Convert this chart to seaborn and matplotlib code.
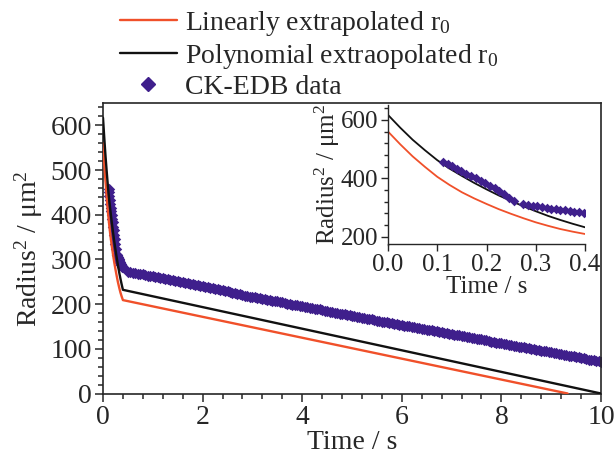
import numpy as np
import pandas as pd
import matplotlib
matplotlib.use("Agg")
import matplotlib.pyplot as plt
import seaborn as sns
from matplotlib.ticker import MultipleLocator
from matplotlib.lines import Line2D

# ---- model curves: squared radius vs time ----
t_linear = [0.0, 0.025, 0.05, 0.075, 0.1, 0.125, 0.15, 0.175, 0.2,
            0.225, 0.25, 0.275, 0.3, 0.325, 0.35, 0.375, 0.4, 9.33]
r2_linear = [560, 516, 475, 439, 405, 377, 352, 331, 312,
             294, 278, 263, 249, 237, 226, 217, 209, 0]

t_poly = [0.0, 0.025, 0.05, 0.075, 0.1, 0.125, 0.15, 0.175, 0.2,
          0.225, 0.25, 0.275, 0.3, 0.325, 0.35, 0.375, 0.4, 10.0]
r2_poly = [617, 573, 532, 496, 462, 433, 408, 384, 362,
           341, 322, 304, 287, 271, 257, 244, 232, 0]

# ---- CK-EDB measurements ----
t_early = [0.111, 0.121, 0.130, 0.140, 0.149, 0.159, 0.169, 0.178, 0.188, 0.197,
           0.207, 0.217, 0.226, 0.236, 0.245, 0.255,
           0.275, 0.284, 0.294, 0.303, 0.312, 0.322, 0.331, 0.341, 0.350, 0.359,
           0.369, 0.378, 0.388, 0.397]
r2_early = [457, 450, 443, 433, 425, 416, 408, 400, 391, 383,
            373, 365, 355, 346, 334, 323,
            311, 309, 306, 304, 301, 299, 296, 294, 292, 290,
            288, 286, 284, 282]

t_late = [round(0.5 + 0.05 * i, 2) for i in range(191)]
r2_late = [272, 271, 270, 269, 268, 268, 267, 265, 264, 263,
           262, 261, 260, 258, 258, 257, 256, 254, 253, 252,
           251, 250, 249, 248, 247, 246, 245, 243, 242, 241,
           240, 239, 238, 237, 236, 234, 233, 232, 231, 230,
           229, 227, 225, 224, 223, 222, 221, 219, 218, 217,
           216, 215, 214, 213, 212, 211, 210, 209, 208, 207,
           206, 205, 204, 202, 201, 200, 199, 198, 197, 196,
           195, 194, 193, 192, 191, 190, 189, 188, 187, 185,
           184, 183, 182, 181, 180, 179, 178, 177, 176, 175,
           174, 173, 172, 171, 170, 168, 167, 167, 166, 164,
           163, 162, 161, 160, 159, 158, 157, 156, 155, 154,
           153, 152, 151, 150, 149, 148, 147, 146, 145, 144,
           143, 142, 141, 140, 139, 138, 137, 136, 135, 134,
           133, 132, 131, 130, 129, 128, 127, 126, 125, 124,
           123, 122, 121, 120, 119, 117, 116, 115, 114, 113,
           112, 111, 110, 109, 108, 107, 106, 105, 104, 103,
           102, 101, 100, 99, 98, 97, 96, 95, 94, 93,
           92, 91, 90, 89, 88, 87, 86, 85, 84, 83,
           82, 81, 80, 79, 78, 76, 75, 74, 73, 72,
           71]

labels = ["Linearly extrapolated r$_0$",
          "Polynomial extraopolated r$_0$",
          "CK-EDB data"]

RED = "#f0502a"
BLACK = "#111111"
PURPLE = "#3f1f8c"

sns.set_style("ticks")
plt.rcParams["font.family"] = ["Liberation Serif", "DejaVu Serif"]
plt.rcParams["mathtext.fontset"] = "custom"
plt.rcParams["mathtext.rm"] = "Liberation Serif"
plt.rcParams["mathtext.it"] = "Liberation Serif:italic"
plt.rcParams["axes.linewidth"] = 1.2

lin = pd.DataFrame({"t": t_linear, "r2": r2_linear})
poly = pd.DataFrame({"t": t_poly, "r2": r2_poly})
meas = pd.DataFrame({"t": t_early + t_late, "r2": r2_early + r2_late})
meas_in = pd.DataFrame({"t": t_early, "r2": r2_early})

fig = plt.figure(figsize=(6.16, 4.61), dpi=100)
ax = fig.add_axes([103 / 616, 1 - 393.5 / 461, 498 / 616, 290.5 / 461])
ins = fig.add_axes([388 / 616, 1 - 244.5 / 461, 197 / 616, 139.5 / 461])

# ---- main panel ----
sns.scatterplot(data=meas, x="t", y="r2", ax=ax, marker="D", s=34,
                color=PURPLE, linewidth=0, zorder=2, legend=False)
sns.lineplot(data=lin, x="t", y="r2", ax=ax, color=RED, lw=1.7,
             estimator=None, sort=False, zorder=3, legend=False)
sns.lineplot(data=poly, x="t", y="r2", ax=ax, color=BLACK, lw=1.7,
             estimator=None, sort=False, zorder=3, legend=False)

ax.set_xlim(0, 10)
ax.set_ylim(0, 650)
ax.xaxis.set_major_locator(MultipleLocator(2))
ax.xaxis.set_minor_locator(MultipleLocator(0.4))
ax.yaxis.set_major_locator(MultipleLocator(100))
ax.yaxis.set_minor_locator(MultipleLocator(20))
ax.tick_params(which="both", direction="out", width=1.1, labelsize=20,
               top=False, right=False, pad=2)
ax.tick_params(which="major", length=6)
ax.tick_params(which="minor", length=3.5)
ax.set_xlabel("Time / s", fontsize=20, labelpad=0)
ax.set_ylabel("Radius$^2$ / μm$^2$", fontsize=20, labelpad=4)
for sp in ax.spines.values():
    sp.set_visible(True)
    sp.set_linewidth(1.2)

# ---- inset ----
ins.patch.set_alpha(0)
sns.scatterplot(data=meas_in, x="t", y="r2", ax=ins, marker="D", s=24,
                color=PURPLE, linewidth=0, zorder=3, legend=False)
sns.lineplot(data=lin, x="t", y="r2", ax=ins, color=RED, lw=1.3,
             estimator=None, sort=False, zorder=2, legend=False)
sns.lineplot(data=poly, x="t", y="r2", ax=ins, color=BLACK, lw=1.3,
             estimator=None, sort=False, zorder=2, legend=False)
ins.set_xlim(0, 0.4)
ins.set_ylim(173, 651)
ins.xaxis.set_major_locator(MultipleLocator(0.1))
ins.yaxis.set_major_locator(MultipleLocator(200))
ins.yaxis.set_minor_locator(MultipleLocator(40))
ins.tick_params(which="both", direction="out", width=1.0, labelsize=18,
                top=False, right=False, pad=2)
ins.tick_params(which="major", length=5)
ins.tick_params(which="minor", length=3)
ins.spines["top"].set_visible(False)
ins.spines["right"].set_visible(False)
ins.spines["left"].set_linewidth(1.0)
ins.spines["bottom"].set_linewidth(1.0)
ins.set_xlabel("Time / s", fontsize=18, labelpad=0)
ins.set_ylabel("Radius$^2$ / μm$^2$", fontsize=18, labelpad=-1)

# ---- legend above the plot ----
handles = [Line2D([], [], color=RED, lw=1.7),
           Line2D([], [], color=BLACK, lw=1.7),
           Line2D([], [], color=PURPLE, marker="D", ls="none", ms=7)]
fig.legend(handles, labels, loc="upper left",
           bbox_to_anchor=(120 / 616, 1 - 9 / 461), frameon=False,
           fontsize=20, handlelength=2.05, handletextpad=0.3,
           labelspacing=0.14, borderpad=0, borderaxespad=0)

fig.savefig("out.png", dpi=100)
